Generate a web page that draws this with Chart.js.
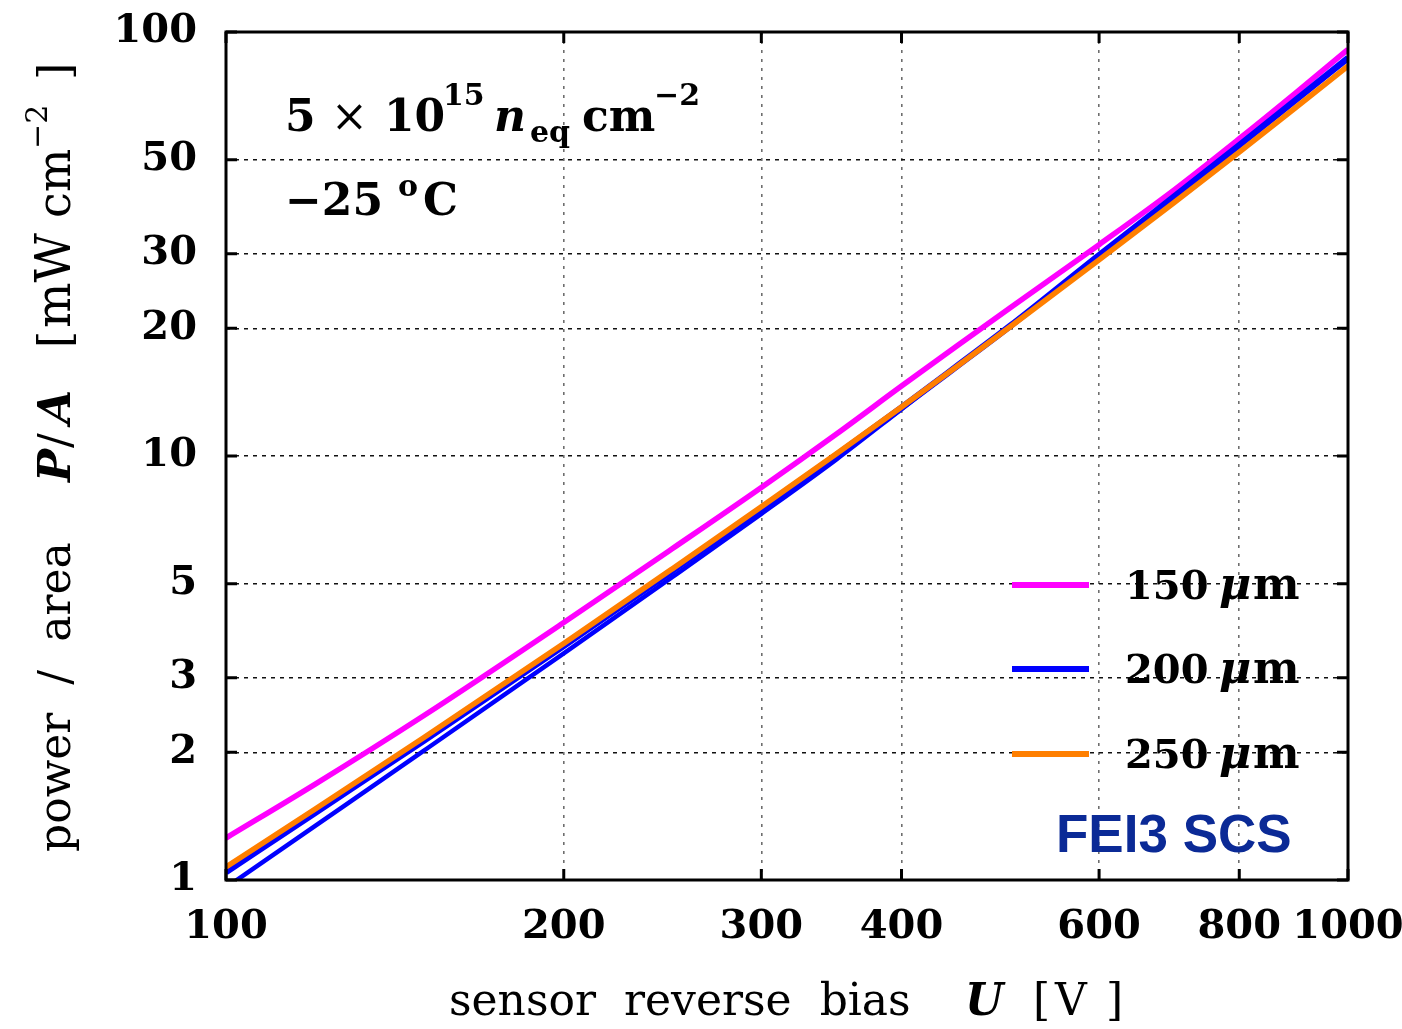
<!DOCTYPE html>
<html><head><meta charset="utf-8">
<script src="https://cdn.jsdelivr.net/npm/chart.js@4/dist/chart.umd.min.js"></script>
<style>html,body{margin:0;padding:0;background:#fff;}canvas{display:block;}</style>
</head><body>
<canvas id="c" width="1402" height="1029"></canvas>
<script>
// ---- data ----
const volts = [100, 120, 150, 200, 250, 300, 350, 400, 450, 500, 600, 700, 800, 900, 1000];
const p150  = [1.256, 1.681, 2.440, 4.048, 6.050, 8.431, 11.27, 14.62, 18.33, 22.37, 31.51, 42.44, 56.03, 72.18, 91.0];
const p200a = [1.044, 1.439, 2.131, 3.566, 5.365, 7.518, 10.05, 13.00, 16.42, 20.27, 29.76, 40.90, 54.07, 69.41, 86.8];
const p200b = [0.960, 1.340, 2.016, 3.423, 5.185, 7.304, 9.819, 12.90, 16.42, 20.27, 29.76, 40.90, 54.07, 69.41, 86.8];
const p250  = [1.073, 1.468, 2.165, 3.613, 5.424, 7.587, 10.12, 13.05, 16.39, 20.18, 29.01, 39.61, 52.09, 66.64, 83.15];
const xTicks = [100, 200, 300, 400, 600, 800, 1000];
const yTicks = [1, 2, 3, 5, 10, 20, 30, 50, 100];
const legendLabels = ['150', '200', '250'];
const legendColors = ['#ff00ff', '#0000ff', '#ff7f00'];

const pts = arr => volts.map((v, i) => ({x: v, y: arr[i]}));
const SERIF = '"DejaVu Serif", serif';

function txt(ctx, s, x, y, font, color) {
  ctx.font = font; ctx.fillStyle = color || '#000';
  ctx.textAlign = 'left'; ctx.textBaseline = 'alphabetic';
  ctx.fillText(s, x, y);
}

const decor = {
  id: 'decor',
  afterDraw(chart) {
    const ctx = chart.ctx, a = chart.chartArea;
    const xs = chart.scales.x, ys = chart.scales.y;
    ctx.save();
    // frame
    ctx.strokeStyle = '#000'; ctx.lineWidth = 3;
    ctx.strokeRect(a.left, a.top, a.right - a.left, a.bottom - a.top);
    // inward tick marks
    ctx.beginPath();
    yTicks.forEach(v => {
      const y = ys.getPixelForValue(v);
      ctx.moveTo(a.left, y); ctx.lineTo(a.left + 11, y);
      ctx.moveTo(a.right, y); ctx.lineTo(a.right - 11, y);
    });
    xTicks.forEach(v => {
      const x = xs.getPixelForValue(v);
      ctx.moveTo(x, a.bottom); ctx.lineTo(x, a.bottom - 11);
      ctx.moveTo(x, a.top); ctx.lineTo(x, a.top + 11);
    });
    ctx.stroke();

    // legend
    const legY = [585, 669, 754];
    legendLabels.forEach((lab, i) => {
      ctx.strokeStyle = legendColors[i]; ctx.lineWidth = 6;
      ctx.beginPath(); ctx.moveTo(1012, legY[i]); ctx.lineTo(1089, legY[i]); ctx.stroke();
      const b = legY[i] + 14;
      txt(ctx, lab, 1125, b, 'bold 40px ' + SERIF);
      txt(ctx, 'μ', 1219, b, 'italic bold 44px ' + SERIF);
      txt(ctx, 'm', 1253, b, 'bold 44px ' + SERIF);
    });
    txt(ctx, 'FEI3 SCS', 1056, 852, 'bold 53px "Liberation Sans", Arial, sans-serif', '#0b2a96');

    // annotation
    txt(ctx, '5', 285, 131, 'bold 44px ' + SERIF);
    txt(ctx, '×', 331, 131, '44px ' + SERIF);
    txt(ctx, '10', 384, 131, 'bold 44px ' + SERIF);
    txt(ctx, '15', 443, 105, 'bold 30px ' + SERIF);
    txt(ctx, 'n', 494, 131, 'italic bold 44px ' + SERIF);
    txt(ctx, 'eq', 530, 142, 'bold 30px ' + SERIF);
    txt(ctx, 'cm', 582, 131, 'bold 44px ' + SERIF);
    txt(ctx, '−2', 654, 105, 'bold 30px ' + SERIF);
    txt(ctx, '−25', 285, 215, 'bold 44px ' + SERIF);
    txt(ctx, 'o', 398, 196, 'bold 30px ' + SERIF);
    txt(ctx, 'C', 423, 215, 'bold 44px ' + SERIF);

    // x title
    txt(ctx, 'sensor  reverse  bias', 449, 1015, '44px ' + SERIF);
    txt(ctx, 'U', 965, 1015, 'italic bold 44px ' + SERIF);
    txt(ctx, '[', 1033, 1015, '44px ' + SERIF);
    txt(ctx, 'V', 1055, 1015, '44px ' + SERIF);
    txt(ctx, ']', 1106, 1015, '44px ' + SERIF);

    // y title (rotated)
    ctx.translate(70, 0); ctx.rotate(-Math.PI / 2);
    txt(ctx, 'power  /  area', -852, 0, '44px ' + SERIF);
    txt(ctx, 'P', -482, 0, 'italic bold 44px ' + SERIF);
    txt(ctx, '/', -448, 0, '44px ' + SERIF);
    txt(ctx, 'A', -424, 0, 'italic bold 44px ' + SERIF);
    txt(ctx, '[', -348, 0, '44px ' + SERIF);
    txt(ctx, 'mW', -328, 0, '48px ' + SERIF);
    txt(ctx, 'cm', -218, 0, '46px ' + SERIF);
    txt(ctx, '−2', -149, -23, '30px ' + SERIF);
    txt(ctx, ']', -80, 0, '44px ' + SERIF);
    ctx.restore();
  }
};

const tickFont = {family: 'DejaVu Serif', weight: 'bold', size: 40};

new Chart(document.getElementById('c'), {
  type: 'line',
  data: {
    datasets: [
      {label: '250 μm', data: pts(p250), borderColor: '#ff7f00', borderWidth: 5.5},
      {label: '200 μm', data: pts(p200b), borderColor: '#0000ff', borderWidth: 4.5},
      {label: '200 μm', data: pts(p200a), borderColor: '#0000ff', borderWidth: 6.5},
      {label: '250 μm', data: pts(p250), borderColor: '#ff7f00', borderWidth: 1.5, borderDash: [6, 6]},
      {label: '150 μm', data: pts(p150), borderColor: '#ff00ff', borderWidth: 5.5}
    ]
  },
  options: {
    responsive: false,
    devicePixelRatio: 1,
    animation: false,
    events: [],
    elements: {point: {radius: 0}, line: {cubicInterpolationMode: 'monotone', fill: false}},
    layout: {padding: {left: 0, right: 54, top: 32, bottom: 0}},
    plugins: {legend: {display: false}, tooltip: {enabled: false}},
    scales: {
      x: {
        type: 'logarithmic', min: 100, max: 1000,
        afterBuildTicks: s => { s.ticks = xTicks.map(v => ({value: v})); },
        afterFit: s => { s.height = 149; s.paddingLeft = 0; s.paddingRight = 0; },
        ticks: {font: tickFont, color: '#000', padding: 24, autoSkip: false, maxRotation: 0,
                callback: v => String(v)},
        grid: {color: '#6e6e6e', lineWidth: 1.6, drawTicks: false},
        border: {display: false, dash: [3, 6]}
      },
      y: {
        type: 'logarithmic', min: 1, max: 100,
        afterBuildTicks: s => { s.ticks = yTicks.map(v => ({value: v})); },
        afterFit: s => { s.width = 226; s.paddingTop = 0; s.paddingBottom = 0; },
        ticks: {font: tickFont, color: '#000', padding: 29, autoSkip: false,
                callback: v => String(v)},
        grid: {color: '#111', lineWidth: 1.4, drawTicks: false},
        border: {display: false, dash: [4, 5]}
      }
    }
  },
  plugins: [decor]
});
</script>
</body></html>
